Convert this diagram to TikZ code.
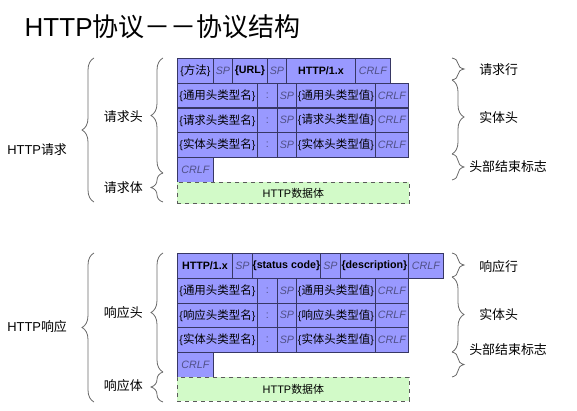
\documentclass[tikz,border=0pt]{standalone}
\usepackage{fontspec}
\setmainfont{Liberation Sans}
\newfontfamily\cjk{Noto Sans CJK SC}
\usetikzlibrary{decorations.pathreplacing}
\definecolor{cellfill}{RGB}{153,153,255}
\definecolor{cellline}{RGB}{55,55,100}
\definecolor{bodyfill}{RGB}{210,250,200}
\definecolor{bodyline}{RGB}{90,90,90}
\definecolor{bracegray}{RGB}{105,105,105}
\definecolor{spgray}{RGB}{80,80,135}
\newcommand{\zh}[1]{{\cjk #1}}
\newcommand{\zhc}[1]{{\fontsize{8.6}{10}\selectfont\cjk #1}}
\newcommand{\spt}{\textit{\color{spgray}SP}}
\newcommand{\crlf}{\textit{\color{spgray}CRLF}}
\newcommand{\sepc}{{\color{spgray}:}}
% one cell: name, left x, right x, top y, text
\newcommand{\cellbox}[5]{\node[cell, minimum width={(#3-#2)*0.75pt}] (#1) at (#2,#4) {#5};}
\tikzset{
  cell/.style={draw=cellline, fill=cellfill, line width=0.6pt, anchor=north west,
    inner sep=0pt, minimum height=18.56pt, font=\fontsize{8}{10}\selectfont},
  databody/.style={draw=bodyline, dashed, fill=bodyfill, line width=0.6pt,
    anchor=north west, inner sep=0pt, font=\fontsize{8.2}{10}\selectfont},
  curly/.style={decorate, decoration={brace, amplitude=9pt}, draw=bracegray, line width=0.6pt},
  lbl/.style={font=\fontsize{9.7}{11}\selectfont, inner sep=0pt},
}
\begin{document}
\begin{tikzpicture}[x=0.75pt,y=-0.75pt]
\useasboundingbox (0,0) rectangle (577,410);
\node[anchor=west, font=\fontsize{19.5}{22}\selectfont] (title) at (20,27) {HTTP\zh{协议－－协议结构}};

% ---- HTTP request ----
\cellbox{qa}{177}{213}{58}{\{\zhc{方法}\}}
\cellbox{qb}{213}{232}{58}{\spt}
\cellbox{qc}{232}{267}{58}{\textbf{\{URL\}}}
\cellbox{qd}{267}{286}{58}{\spt}
\cellbox{qe}{286}{355}{58}{\textbf{HTTP/1.x}}
\cellbox{qf}{355}{390}{58}{\crlf}
\foreach \y/\k [count=\i] in {82.75/通用, 107.5/请求, 132.25/实体}{
  \cellbox{qn\i}{177}{257}{\y}{\{\zhc{\k 头类型名}\}}
  \cellbox{qc\i}{257}{277}{\y}{\sepc}
  \cellbox{qs\i}{277}{296}{\y}{\spt}
  \cellbox{qv\i}{296}{375}{\y}{\{\zhc{\k 头类型值}\}}
  \cellbox{qr\i}{375}{408}{\y}{\crlf}
}
\cellbox{qend}{177}{213}{157}{\crlf}
\node[databody, minimum width={232*0.75pt}, minimum height={21.5*0.75pt}] (qbody) at (177,181.75) {HTTP\zh{数据体}};

\draw[curly] (94,202) -- (94,58);
\draw[curly] (163,173) -- (163,58);
\draw[curly] (163,202) -- (163,173);
\draw[curly] (452,58) -- (452,80);
\draw[curly] (452,80) -- (452,154);
\draw[curly] (452,154) -- (452,180);
\node[lbl, anchor=west] (req) at (7,150) {HTTP\zh{请求}};
\node[lbl, anchor=east] (reqhead) at (143,117) {\zh{请求头}};
\node[lbl, anchor=east] (reqbody) at (143,188) {\zh{请求体}};
\node[lbl, anchor=west] (reqline) at (479,70) {\zh{请求行}};
\node[lbl, anchor=west] (reqent) at (479,118) {\zh{实体头}};
\node[lbl, anchor=west] (reqend) at (469,167) {\zh{头部结束标志}};

% ---- HTTP response ----
\cellbox{pa}{177}{232}{253}{\textbf{HTTP/1.x}}
\cellbox{pb}{232}{252}{253}{\spt}
\cellbox{pc}{252}{320}{253}{\textbf{\{status code\}}}
\cellbox{pd}{320}{340}{253}{\spt}
\cellbox{pe}{340}{408}{253}{\textbf{\{description\}}}
\cellbox{pf}{408}{443}{253}{\crlf}
\foreach \y/\k [count=\i] in {277.75/通用, 302.5/响应, 327.25/实体}{
  \cellbox{pn\i}{177}{257}{\y}{\{\zhc{\k 头类型名}\}}
  \cellbox{pc\i}{257}{277}{\y}{\sepc}
  \cellbox{ps\i}{277}{296}{\y}{\spt}
  \cellbox{pv\i}{296}{375}{\y}{\{\zhc{\k 头类型值}\}}
  \cellbox{pr\i}{375}{408}{\y}{\crlf}
}
\cellbox{pend}{177}{213}{352}{\crlf}
\node[databody, minimum width={232*0.75pt}, minimum height={24*0.75pt}] (pbody) at (177,376.75) {HTTP\zh{数据体}};

\draw[curly] (94,402) -- (94,253);
\draw[curly] (163,372) -- (163,253);
\draw[curly] (163,402) -- (163,372);
\draw[curly] (452,253) -- (452,277);
\draw[curly] (452,277) -- (452,352);
\draw[curly] (452,352) -- (452,377);
\node[lbl, anchor=west] (resp) at (7,327) {HTTP\zh{响应}};
\node[lbl, anchor=east] (resphead) at (143,313) {\zh{响应头}};
\node[lbl, anchor=east] (respbody) at (143,386) {\zh{响应体}};
\node[lbl, anchor=west] (respline) at (479,267) {\zh{响应行}};
\node[lbl, anchor=west] (respent) at (479,315) {\zh{实体头}};
\node[lbl, anchor=west] (respend) at (469,350) {\zh{头部结束标志}};
\end{tikzpicture}
\end{document}
